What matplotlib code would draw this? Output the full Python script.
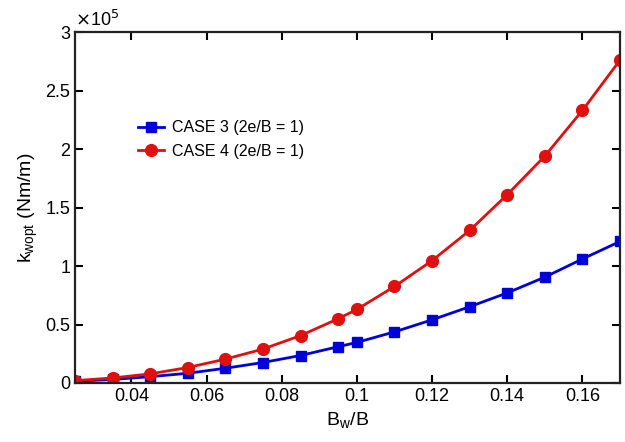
import numpy as np
import matplotlib
matplotlib.use("Agg")
import matplotlib.pyplot as plt

plt.rcParams['font.family'] = ['Liberation Sans', 'DejaVu Sans']

# B_w/B ratio
bw_ratio = [0.025, 0.035, 0.045, 0.055, 0.065, 0.075, 0.085, 0.095, 0.1,
            0.11, 0.12, 0.13, 0.14, 0.15, 0.16, 0.17]
# optimal stiffness (Nm/m)
case3 = [1500, 3000, 5400, 8300, 12600, 17500, 23500, 31000, 34700,
         43700, 54000, 65200, 77000, 90500, 106000, 121000]
case4 = [2000, 4300, 7800, 13200, 20400, 29000, 40500, 54900, 62900,
         82500, 104600, 130400, 161000, 194000, 233000, 276000]

fig = plt.figure(figsize=(6.25, 4.42), dpi=100)
ax = fig.add_axes([0.12, 0.1335, 0.872, 0.794])

ax.plot(bw_ratio, case3, color='#0000d8', lw=2, marker='s', ms=6.5,
        label='CASE 3 (2e/B = 1)')
ax.plot(bw_ratio, case4, color='#e01010', lw=2, marker='o', ms=8.5,
        label='CASE 4 (2e/B = 1)')

ax.set_xlim(0.025, 0.17)
ax.set_ylim(0, 3e5)
ax.set_xticks([0.04, 0.06, 0.08, 0.1, 0.12, 0.14, 0.16])
ax.set_xticklabels(['0.04', '0.06', '0.08', '0.1', '0.12', '0.14', '0.16'])
ax.set_yticks(np.arange(0, 3.01e5, 0.5e5))
ax.set_yticklabels(['0', '0.5', '1', '1.5', '2', '2.5', '3'])
ax.text(0.0, 1.005, r'$\times$10$^5$', transform=ax.transAxes, fontsize=13,
        ha='left', va='bottom')

ax.tick_params(direction='in', top=True, right=True, labelsize=13, length=6, width=1.5)
for s in ax.spines.values():
    s.set_linewidth(1.6)
    s.set_color('#222222')

ax.set_xlabel(r'B$_\mathregular{w}$/B', fontsize=14)
ax.set_ylabel(r'k$_\mathregular{wopt}$ (Nm/m)', fontsize=14)

ax.legend(loc='upper left', bbox_to_anchor=(0.09, 0.79), frameon=False,
          fontsize=11.5, handlelength=1.6, handletextpad=0.5, labelspacing=0.55)

fig.savefig('out.png', dpi=100)
